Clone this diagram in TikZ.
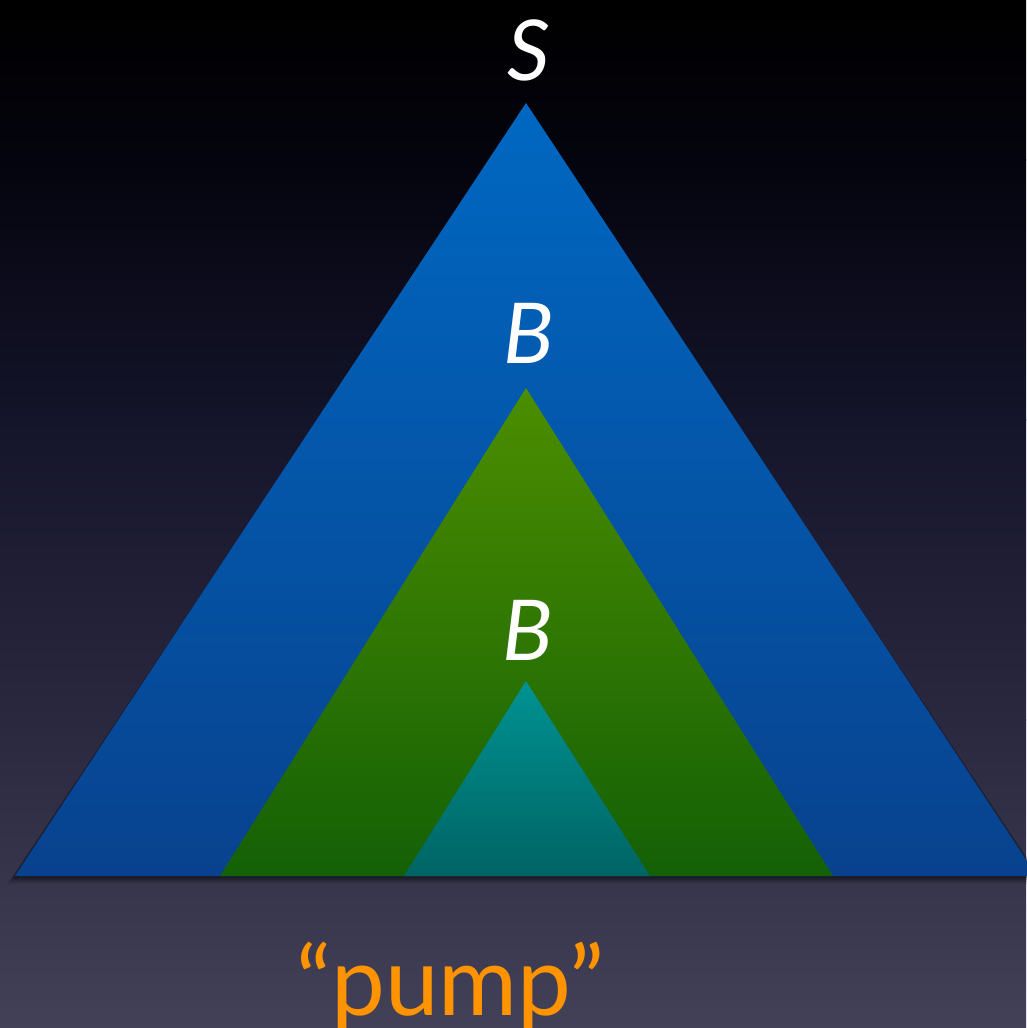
\documentclass[tikz,border=0pt]{standalone}
\usepackage{fontspec}
\setmainfont{Lato}
\begin{document}
\begin{tikzpicture}[x=1pt,y=-1pt,
  lbl/.style={text=white,font=\fontsize{84}{90}\selectfont\itshape,inner sep=0pt,anchor=center},
  pumptext/.style={font=\fontsize{96}{110}\selectfont,inner sep=0pt,anchor=base}]
\definecolor{bgtop}{HTML}{000000}
\definecolor{bgA}{HTML}{04040E}
\definecolor{bgB}{HTML}{14142A}
\definecolor{bgC}{HTML}{2A283E}
\definecolor{bgbot}{HTML}{434158}
\definecolor{orangetxt}{HTML}{FF9400}
\useasboundingbox (0,0) rectangle (1026,1028);
% background
\shade[top color=bgtop,bottom color=bgA] (0,0) rectangle (1026,160);
\shade[top color=bgA,bottom color=bgB] (0,159) rectangle (1026,420);
\shade[top color=bgB,bottom color=bgC] (0,419) rectangle (1026,720);
\shade[top color=bgC,bottom color=bgbot] (0,719) rectangle (1026,1028);
% shadow
\foreach \d/\o in {8/0.08,6/0.12,4/0.18,2/0.25}{
  \fill[black,opacity=\o] (526,103+\d) -- (15-\d,876+\d) -- (1037+\d,876+\d) -- cycle;
}
% triangles
\shade[top color={rgb,255:red,0;green,104;blue,194},bottom color={rgb,255:red,8;green,66;blue,142}]
  (526,103) coordinate (sTop) -- (15,876) -- (1037,876) -- cycle;
\shade[top color={rgb,255:red,76;green,142;blue,0},bottom color={rgb,255:red,20;green,96;blue,6}]
  (526,388) coordinate (bTop) -- (220,876) -- (833,876) -- cycle;
\shade[top color={rgb,255:red,0;green,146;blue,146},bottom color={rgb,255:red,0;green,100;blue,100}]
  (526,681) coordinate (cTop) -- (404,876) -- (650,876) -- cycle;
% labels
\node[lbl] (S) at (529,50) {S};
\node[lbl] (B1) at (529,333) {B};
\node[lbl] (B2) at (528,630) {B};
\node[pumptext,text=orangetxt] (pump) at (450,1015) {“pump”};
\end{tikzpicture}
\end{document}
